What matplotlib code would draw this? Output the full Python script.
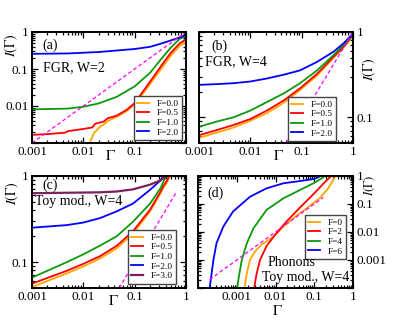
import matplotlib
matplotlib.use("Agg")
import matplotlib.pyplot as plt
from matplotlib.ticker import LogLocator, NullFormatter

plt.rcParams['font.family'] = ['Liberation Serif', 'DejaVu Serif']
plt.rcParams['mathtext.fontset'] = 'stix'

# ---------------- data ----------------
# panel (a): FGR, W=2
a_g_F0 = [0.013, 0.016, 0.021, 0.025, 0.029, 0.035, 0.045, 0.07, 0.1, 0.15, 0.2, 0.32, 0.5, 0.76, 1.0]
a_I_F0 = [0.00095, 0.00182, 0.00275, 0.00316, 0.0038, 0.00437, 0.00513, 0.00724, 0.011, 0.0229, 0.0398, 0.0955, 0.224, 0.427, 0.537]
a_g_F05 = [0.001, 0.002, 0.0045, 0.005, 0.01, 0.015, 0.017, 0.025, 0.03, 0.045, 0.07, 0.1, 0.15, 0.2, 0.32, 0.5, 0.76, 1.0]
a_I_F05 = [0.00166, 0.00174, 0.00191, 0.00209, 0.0024, 0.00263, 0.00331, 0.0038, 0.00468, 0.0055, 0.00794, 0.012, 0.0263, 0.0457, 0.115, 0.269, 0.50, 0.63]
a_g_F1 = [0.001, 0.005, 0.01, 0.02, 0.045, 0.1, 0.2, 0.32, 0.5, 0.76, 1.0]
a_I_F1 = [0.00813, 0.00851, 0.00955, 0.01175, 0.0178, 0.0339, 0.0794, 0.178, 0.372, 0.661, 0.759]
a_g_F2 = [0.001, 0.005, 0.02, 0.1, 0.2, 0.3, 0.5, 0.75, 1.0]
a_I_F2 = [0.257, 0.263, 0.288, 0.347, 0.398, 0.468, 0.589, 0.708, 0.83]

# panel (b): FGR, W=4
b_g = [0.001, 0.0022, 0.0047, 0.01, 0.021, 0.045, 0.093, 0.2, 0.42, 0.66, 1.0]
b_I_F0 = [0.0575, 0.0661, 0.0759, 0.0912, 0.112, 0.148, 0.209, 0.309, 0.501, 0.661, 0.891]
b_I_F05 = [0.0617, 0.0708, 0.0813, 0.0955, 0.120, 0.158, 0.219, 0.324, 0.513, 0.676, 0.923]
b_I_F1 = [0.0776, 0.0891, 0.1, 0.120, 0.151, 0.191, 0.251, 0.355, 0.537, 0.708, 0.923]
b_I_F2 = [0.240, 0.245, 0.251, 0.263, 0.285, 0.316, 0.355, 0.447, 0.589, 0.741, 0.955]

# panel (c): Toy model, W=4
c_g_F0 = [0.001, 0.0048, 0.01, 0.021, 0.045, 0.093, 0.2, 0.32, 0.36, 0.43, 0.49]
c_I_F0 = [0.0513, 0.0741, 0.0891, 0.110, 0.145, 0.214, 0.389, 0.631, 0.724, 0.851, 1.0]
c_g_F05 = [0.001, 0.0048, 0.01, 0.021, 0.045, 0.093, 0.2, 0.32, 0.36, 0.43, 0.46]
c_I_F05 = [0.0562, 0.0794, 0.0955, 0.117, 0.155, 0.229, 0.407, 0.661, 0.759, 0.891, 1.0]
c_g_F1 = [0.001, 0.0048, 0.01, 0.021, 0.045, 0.093, 0.2, 0.32, 0.38, 0.42]
c_I_F1 = [0.0661, 0.1, 0.123, 0.155, 0.20, 0.295, 0.479, 0.724, 0.912, 1.0]
c_g_F2 = [0.001, 0.0048, 0.01, 0.021, 0.045, 0.093, 0.2, 0.32, 0.36]
c_I_F2 = [0.251, 0.269, 0.288, 0.324, 0.389, 0.479, 0.692, 0.891, 1.0]
c_g_F3 = [0.001, 0.021, 0.045, 0.093, 0.2, 0.32, 0.41]
c_I_F3 = [0.631, 0.646, 0.661, 0.70, 0.794, 0.891, 1.0]

# panel (d): Phonons, toy model, W=4
d_g_F0 = [0.00158, 0.00182, 0.00219, 0.00295, 0.00437, 0.00724, 0.01, 0.0178, 0.0398, 0.0646, 0.141, 0.229, 0.309, 0.339, 0.363]
d_I_F0 = [1e-4, 3.31e-4, 1e-3, 2e-3, 3.55e-3, 5.62e-3, 7.94e-3, 0.0178, 0.0447, 0.0708, 0.166, 0.363, 0.724, 0.891, 1.0]
d_g_F2 = [0.00282, 0.00324, 0.00398, 0.00589, 0.01, 0.02, 0.0447, 0.1, 0.178, 0.251, 0.282]
d_I_F2 = [1e-4, 3.16e-4, 1e-3, 3.16e-3, 8.3e-3, 0.0251, 0.0794, 0.24, 0.562, 0.891, 1.0]
d_g_F4 = [0.00102, 0.00117, 0.00135, 0.00182, 0.00269, 0.00589, 0.0158, 0.0427, 0.0955, 0.17, 0.182]
d_I_F4 = [1e-4, 3.31e-4, 1e-3, 3.98e-3, 0.0135, 0.0617, 0.158, 0.316, 0.550, 0.891, 1.0]
d_g_F6 = [0.0002, 0.00025, 0.0003, 0.00045, 0.0008, 0.0022, 0.0059, 0.016, 0.043, 0.095, 0.126, 0.14]
d_I_F6 = [1e-4, 1e-3, 0.00398, 0.0155, 0.0537, 0.182, 0.363, 0.550, 0.661, 0.776, 0.891, 1.0]

# reference lines I = Gamma
a_ref = [0.001, 1.0]
b_ref = [0.05, 1.0]
c_ref = [0.05, 0.65]
d_ref = [0.0002, 0.17]

labels_F = ["F=0.0", "F=0.5", "F=1.0", "F=2.0", "F=3.0"]
labels_d = ["F=0", "F=2", "F=4", "F=6"]
xt = [0.0001, 0.001, 0.01, 0.1, 1]
xt_lab = ["0.0001", "0.001", "0.01", "0.1", "1"]

C_OR = "#ffa500"
C_RD = "#ff0000"
C_GR = "#0a9a0a"
C_BL = "#0000ff"
C_PU = "#7b1f5f"
C_MG = "#ff00ff"

W, H = 415, 321
fig = plt.figure(figsize=(W / 100, H / 100), dpi=100)


def box(l, t, r, b):
    return [l / W, 1 - b / H, (r - l) / W, (b - t) / H]


def style(ax, right=False):
    for s in ax.spines.values():
        s.set_linewidth(1.4)
    ax.set_xscale('log')
    ax.set_yscale('log')
    ax.tick_params(which='both', direction='in', top=True, right=True, left=True, bottom=True,
                   labelsize=9.5, width=0.9)
    ax.tick_params(which='major', length=4.5, pad=2.5)
    ax.tick_params(which='minor', length=2.3)
    ax.xaxis.set_minor_locator(LogLocator(base=10, subs=range(2, 10), numticks=20))
    ax.yaxis.set_minor_locator(LogLocator(base=10, subs=range(2, 10), numticks=20))
    ax.xaxis.set_minor_formatter(NullFormatter())
    ax.yaxis.set_minor_formatter(NullFormatter())
    if right:
        ax.tick_params(which='both', labelleft=False, labelright=True)


def legend(ax, handles, labels, x, y):
    lg = ax.legend(handles, labels, loc='upper left', bbox_to_anchor=(x / W, 1 - y / H),
                   bbox_transform=fig.transFigure, fontsize=6.7, frameon=True, fancybox=False,
                   framealpha=1, edgecolor='#444444', handlelength=1.3, handletextpad=0.8,
                   labelspacing=0.12, borderpad=0.35, borderaxespad=0)
    lg.get_frame().set_linewidth(1.0)


lw = 1.3

# ----- (a) -----
axa = fig.add_axes(box(32, 32, 186, 143))
style(axa)
la = [axa.plot(a_g_F0, a_I_F0, color=C_OR, lw=lw)[0],
      axa.plot(a_g_F05, a_I_F05, color=C_RD, lw=lw)[0],
      axa.plot(a_g_F1, a_I_F1, color=C_GR, lw=lw)[0],
      axa.plot(a_g_F2, a_I_F2, color=C_BL, lw=lw)[0]]
axa.plot(a_ref, a_ref, color=C_MG, lw=0.9, ls=(0, (3, 2)))
axa.set_xticks(xt[1:], ["0.001", "0.01", "0.1", ""])
axa.set_yticks([0.001, 0.01, 0.1, 1], ["", "0.01", "0.1", "1"])
axa.set_xlim(0.001, 1)
axa.set_ylim(0.001, 1)
legend(axa, la, labels_F[:4], 134, 96)

# ----- (b) -----
axb = fig.add_axes(box(199, 32, 353, 143))
style(axb, right=True)
lb = [axb.plot(b_g, b_I_F0, color=C_OR, lw=lw)[0],
      axb.plot(b_g, b_I_F05, color=C_RD, lw=lw)[0],
      axb.plot(b_g, b_I_F1, color=C_GR, lw=lw)[0],
      axb.plot(b_g, b_I_F2, color=C_BL, lw=lw)[0]]
axb.plot(b_ref, b_ref, color=C_MG, lw=0.9, ls=(0, (3, 2)))
axb.set_xticks(xt[1:], xt_lab[1:])
axb.set_yticks([0.1, 1], ["0.1", "1"])
axb.set_xlim(0.001, 1)
axb.set_ylim(0.05, 1)
legend(axb, lb, labels_F[:4], 288, 97)

# ----- (c) -----
axc = fig.add_axes(box(32, 176, 186, 288))
style(axc)
lc = [axc.plot(c_g_F0, c_I_F0, color=C_OR, lw=lw)[0],
      axc.plot(c_g_F05, c_I_F05, color=C_RD, lw=lw)[0],
      axc.plot(c_g_F1, c_I_F1, color=C_GR, lw=lw)[0],
      axc.plot(c_g_F2, c_I_F2, color=C_BL, lw=lw)[0],
      axc.plot(c_g_F3, c_I_F3, color=C_PU, lw=lw + 0.3)[0]]
axc.plot(c_ref, c_ref, color=C_MG, lw=0.9, ls=(0, (3, 2)))
axc.set_xticks(xt[1:], xt_lab[1:])
axc.set_yticks([0.1, 1], ["0.1", "1"])
axc.set_xlim(0.001, 1)
axc.set_ylim(0.05, 1)
legend(axc, lc, labels_F, 128, 230)

# ----- (d) -----
axd = fig.add_axes(box(198, 176, 353, 288))
style(axd, right=True)
ld = [axd.plot(d_g_F0, d_I_F0, color=C_OR, lw=lw)[0],
      axd.plot(d_g_F2, d_I_F2, color=C_RD, lw=lw)[0],
      axd.plot(d_g_F4, d_I_F4, color=C_GR, lw=lw)[0],
      axd.plot(d_g_F6, d_I_F6, color=C_BL, lw=lw)[0]]
axd.plot(d_ref, d_ref, color=C_MG, lw=0.9, ls=(0, (3, 2)))
axd.set_xticks(xt, [""] + xt_lab[1:])
axd.set_yticks(xt, [""] + xt_lab[1:])
axd.set_xlim(0.0001, 1)
axd.set_ylim(0.0001, 1)
legend(axd, ld, labels_d, 305, 215)

# ----- texts -----
def ftext(x, y, s, **kw):
    fig.text(x / W, 1 - y / H, s, **kw)

ftext(50, 45, "(a)", fontsize=10, ha='center', va='center')
ftext(43, 68, "FGR, W=2", fontsize=10, ha='left', va='center')
ftext(219, 46, "(b)", fontsize=10, ha='center', va='center')
ftext(205, 62, "FGR, W=4", fontsize=10, ha='left', va='center')
ftext(50, 185, "(c)", fontsize=10, ha='center', va='center')
ftext(35, 202, "Toy mod., W=4", fontsize=10, ha='left', va='center')
ftext(215, 193, "(d)", fontsize=10, ha='center', va='center')
ftext(291, 263, "Phonons", fontsize=10, ha='center', va='center')
ftext(306, 277, "Toy mod., W=4", fontsize=10, ha='center', va='center')

ylab = r"$I(\Gamma)$"
ftext(11, 45, ylab, fontsize=10, rotation=90, ha='center', va='center')
ftext(369, 69, ylab, fontsize=10, rotation=90, ha='center', va='center')
ftext(12, 193, ylab, fontsize=10, rotation=90, ha='center', va='center')
ftext(370, 185, ylab, fontsize=9, rotation=90, ha='center', va='center')

xlab = r"$\Gamma$"
ftext(110, 156, xlab, fontsize=11, ha='center', va='center')
ftext(278, 156, xlab, fontsize=11, ha='center', va='center')
ftext(113, 301, xlab, fontsize=11, ha='center', va='center')
ftext(277, 311, xlab, fontsize=11, ha='center', va='center')

fig.savefig("out.png", dpi=100)
